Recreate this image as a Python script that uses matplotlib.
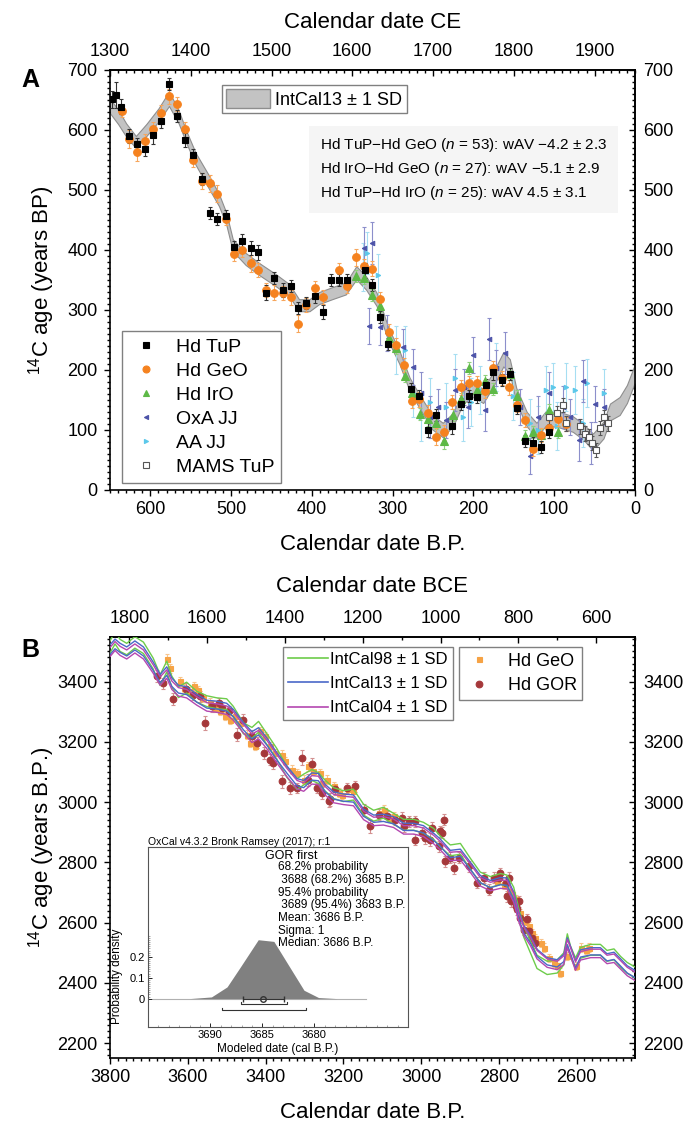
import numpy as np
import matplotlib.pyplot as plt
from matplotlib.lines import Line2D
from matplotlib.patches import Patch
from matplotlib.ticker import MultipleLocator, FixedLocator

plt.rcParams['font.family'] = 'Liberation Sans'
plt.rcParams['mathtext.fontset'] = 'custom'
plt.rcParams['mathtext.rm'] = 'Liberation Sans'
plt.rcParams['mathtext.it'] = 'Liberation Sans:italic'

# ---------------- panel A data (cal BP, 14C age) ----------------
ic13_bp = [650, 640, 630, 618, 605, 590, 577, 565, 556, 544, 527, 515, 506, 498, 482, 465, 445, 428,
           416, 403, 391, 375, 358, 345, 333, 320, 305, 292, 279, 267, 251, 238, 225, 213, 201, 188,
           176, 163, 155, 147, 134, 122, 110, 93, 77, 64, 52, 39, 31, 19, 10, 0]
ic13_age = [640, 622, 600, 580, 600, 625, 652, 622, 590, 552, 512, 483, 452, 408, 385, 368, 350, 333,
            308, 308, 320, 328, 336, 362, 345, 318, 258, 222, 176, 148, 113, 100, 118, 155, 166, 157,
            183, 218, 206, 158, 118, 100, 120, 117, 110, 97, 80, 100, 130, 140, 160, 195]
ic13_sd = [12, 12, 11, 10, 10, 11, 12, 11, 10, 10, 11, 10, 10, 10, 10, 10, 10, 10,
           10, 10, 10, 10, 10, 11, 11, 11, 11, 11, 11, 11, 12, 12, 11, 11, 11, 12,
           12, 12, 12, 12, 12, 12, 12, 13, 13, 13, 14, 14, 14, 15, 15, 15]

tup_bp = [647, 643, 637, 627, 617, 607, 597, 587, 577, 567, 557, 547, 536, 526, 517, 507, 497, 487,
          476, 467, 457, 447, 436, 426, 417, 407, 396, 386, 376, 366, 356, 334, 326, 316,
          306, 277, 267, 256, 246, 227, 216, 206, 196, 185, 176, 165, 155, 146, 136, 126, 116, 106]
tup_age = [651, 658, 639, 590, 577, 568, 592, 615, 677, 623, 583, 559, 518, 462, 451, 456, 405, 415,
           403, 396, 329, 353, 333, 340, 303, 312, 323, 297, 350, 350, 350, 366, 342, 288,
           244, 168, 156, 100, 125, 106, 144, 156, 155, 175, 196, 183, 194, 136, 81, 79, 71, 96]
tup_err = [14, 22, 12, 12, 10, 12, 15, 12, 10, 10, 12, 10, 10, 10, 10, 10, 10, 12,
           12, 12, 12, 10, 12, 10, 10, 10, 12, 12, 10, 10, 10, 12, 10, 10,
           10, 10, 10, 12, 10, 12, 10, 10, 10, 10, 12, 10, 10, 10, 10, 10, 10, 10]

geo_bp = [635, 627, 617, 607, 597, 587, 577, 567, 557, 547, 536, 526, 517, 507, 497, 487, 476, 467,
          457, 447, 436, 426, 417, 407, 396, 386, 366, 356, 346, 336, 326, 316,
          305, 296, 286, 276, 267, 256, 246, 236, 226, 216, 206, 196, 186, 176, 165, 156, 146, 136,
          126, 116, 106, 95, 85]
geo_age = [632, 585, 563, 581, 601, 629, 656, 643, 601, 550, 515, 511, 494, 451, 393, 400, 378, 367,
           333, 329, 328, 321, 277, 308, 336, 322, 366, 340, 388, 373, 369, 318,
           264, 242, 208, 149, 151, 129, 89, 96, 147, 171, 178, 178, 165, 203, 187, 171, 142, 117,
           68, 92, 103, 119, 110]
geo_err = [10, 15, 15, 12, 12, 12, 12, 12, 12, 12, 14, 14, 14, 10, 12, 12, 14, 12,
           12, 12, 12, 12, 14, 12, 12, 12, 12, 12, 14, 12, 12, 12,
           12, 12, 12, 12, 12, 12, 14, 12, 12, 12, 12, 12, 12, 12, 12, 12, 12, 12,
           12, 12, 12, 12, 12]

iro_bp = [346, 336, 326, 316, 305, 296, 285, 276, 266, 256, 246, 236, 225, 216, 206, 196, 186, 176,
          155, 146, 136, 126, 116, 106, 95]
iro_age = [356, 353, 325, 307, 253, 236, 190, 162, 127, 119, 111, 81, 125, 151, 204, 167, 181, 169,
           194, 156, 90, 96, 92, 134, 97]
iro_err = [10, 10, 10, 10, 10, 10, 10, 10, 10, 12, 10, 12, 10, 10, 10, 10, 10, 10,
           10, 10, 10, 10, 10, 10, 10]

oxa_bp = [336, 326, 329, 316, 307, 287, 275, 265, 254, 244, 234, 223, 212, 207, 200, 186, 181, 172,
          161, 142, 130, 120, 106, 89, 81, 69, 65, 55, 50, 39]
oxa_age = [404, 411, 273, 272, 261, 239, 205, 161, 122, 139, 117, 167, 172, 139, 225, 133, 251, 203,
           228, 139, 56, 122, 161, 139, 122, 83, 181, 78, 144, 139]
oxa_err = [35, 35, 30, 30, 30, 30, 30, 35, 35, 30, 30, 35, 30, 35, 30, 35, 35, 30,
           35, 30, 30, 35, 35, 35, 30, 35, 35, 35, 30, 30]

aa_bp = [337, 332, 318, 296, 285, 275, 265, 254, 234, 223, 213, 203, 192, 172, 151, 130, 120, 110,
         101, 97, 85, 74, 64, 60, 39]
aa_age = [372, 395, 358, 233, 233, 161, 122, 147, 139, 186, 122, 147, 167, 205, 156, 111, 100, 167,
          172, 106, 172, 167, 111, 178, 161]
aa_err = [40, 35, 35, 40, 40, 40, 40, 40, 40, 40, 40, 40, 40, 40, 40, 40, 40, 40,
          40, 40, 40, 40, 40, 40, 40]

mams_bp = [106, 97, 89, 85, 68, 62, 57, 53, 48, 43, 39, 33]
mams_age = [122, 128, 142, 111, 106, 94, 89, 78, 67, 103, 122, 111]
mams_err = [12, 12, 12, 12, 12, 12, 12, 12, 12, 12, 12, 12]

ce_ticks = [1300, 1400, 1500, 1600, 1700, 1800, 1900]

# ---------------- panel B data ----------------
curve_bp = [3800, 3787, 3774, 3757, 3736, 3714, 3689, 3671, 3654, 3641,
            3624, 3603, 3577, 3551, 3525, 3500, 3483, 3457, 3435, 3418,
            3397, 3371, 3345, 3319, 3302, 3281, 3264, 3247, 3225, 3200,
            3174, 3148, 3122, 3097, 3071, 3045, 3019, 2994, 2968, 2951,
            2925, 2899, 2873, 2848, 2822, 2796, 2779, 2762, 2749, 2736,
            2719, 2702, 2676, 2650, 2633, 2624, 2616, 2603, 2590, 2564,
            2539, 2522, 2504, 2487, 2470, 2450]
ic98_age = [3515, 3545, 3520, 3508, 3530, 3512, 3460, 3405, 3450, 3400,
            3365, 3380, 3350, 3335, 3328, 3325, 3300, 3245, 3230, 3250,
            3210, 3160, 3100, 3060, 3075, 3090, 3080, 3055, 3030, 3020,
            3025, 2975, 2955, 2965, 2945, 2925, 2925, 2915, 2895, 2870,
            2840, 2845, 2795, 2750, 2735, 2745, 2740, 2700, 2630, 2570,
            2520, 2470, 2450, 2455, 2480, 2545, 2505, 2465, 2500, 2510,
            2510, 2490, 2495, 2470, 2450, 2435]
ic98_sd = [20, 20, 20, 19, 19, 19, 18, 18, 18, 18,
           18, 18, 18, 18, 18, 18, 18, 18, 18, 18,
           18, 18, 18, 18, 18, 18, 18, 18, 18, 18,
           18, 18, 18, 18, 18, 18, 18, 18, 18, 18,
           18, 18, 18, 18, 18, 18, 18, 18, 18, 18,
           20, 22, 22, 22, 20, 18, 18, 18, 18, 18,
           18, 18, 18, 18, 18, 18]
ic13_age_b = [3506, 3525, 3512, 3500, 3520, 3500, 3451, 3410, 3435, 3398,
              3375, 3370, 3345, 3325, 3322, 3315, 3296, 3252, 3222, 3235,
              3202, 3152, 3108, 3066, 3060, 3085, 3083, 3047, 3022, 3015,
              3012, 2965, 2945, 2948, 2940, 2918, 2918, 2910, 2885, 2866,
              2828, 2832, 2788, 2745, 2728, 2738, 2736, 2690, 2625, 2578,
              2545, 2500, 2472, 2465, 2483, 2538, 2510, 2462, 2498, 2505,
              2505, 2485, 2490, 2468, 2445, 2430]
ic13_sd_b = [16, 16, 15, 15, 15, 15, 14, 14, 14, 14,
             13, 13, 13, 13, 13, 13, 12, 12, 12, 12,
             12, 12, 12, 12, 12, 12, 12, 12, 12, 12,
             12, 12, 12, 12, 12, 12, 12, 12, 12, 12,
             12, 12, 12, 12, 12, 12, 12, 12, 12, 12,
             12, 12, 12, 12, 12, 12, 12, 12, 12, 12,
             12, 12, 12, 12, 12, 12]
ic04_age = [3498, 3518, 3502, 3490, 3510, 3490, 3442, 3402, 3425, 3388,
            3366, 3360, 3336, 3316, 3312, 3305, 3286, 3244, 3212, 3224,
            3192, 3144, 3098, 3058, 3050, 3074, 3072, 3038, 3012, 3006,
            3002, 2956, 2936, 2938, 2930, 2908, 2908, 2900, 2876, 2856,
            2820, 2822, 2780, 2736, 2720, 2728, 2726, 2682, 2618, 2572,
            2538, 2494, 2466, 2458, 2476, 2530, 2504, 2456, 2490, 2498,
            2498, 2478, 2482, 2460, 2438, 2422]
ic04_sd = [15, 15, 15, 15, 15, 15, 14, 14, 14, 14,
           14, 14, 14, 14, 14, 14, 14, 14, 14, 14,
           14, 14, 14, 14, 14, 14, 14, 14, 14, 14,
           14, 14, 14, 14, 14, 14, 14, 14, 14, 14,
           14, 14, 14, 14, 14, 14, 14, 14, 14, 14,
           14, 14, 14, 14, 14, 14, 14, 14, 14, 14,
           14, 14, 14, 14, 14, 14]

geob_bp = [3654, 3645, 3620, 3611, 3598, 3585, 3573, 3560, 3543, 3530, 3517, 3504, 3491, 3478, 3465,
           3448, 3440, 3427, 3414, 3401, 3388, 3375, 3358, 3350, 3332, 3320, 3302, 3290, 3277, 3259,
           3255, 3242, 3225, 3212, 3204, 3187, 3174, 3109, 3096, 3079, 3071,
           2805, 2788, 2775, 2766, 2757, 2745, 2732, 2723, 2714, 2706, 2693, 2685, 2672, 2659, 2650,
           2642, 2625, 2603, 2590, 2577, 2569]
geob_age = [3475, 3445, 3401, 3379, 3368, 3385, 3373, 3346, 3329, 3313, 3302, 3285, 3274, 3285, 3263,
            3224, 3197, 3186, 3235, 3219, 3186, 3163, 3158, 3136, 3108, 3097, 3075, 3119, 3103, 3097,
            3064, 3075, 3053, 3031, 3025, 3042, 3036, 2964, 2975, 2948, 2953,
            2738, 2727, 2705, 2694, 2677, 2633, 2605, 2589, 2566, 2550, 2533, 2517, 2483, 2467, 2461,
            2434, 2489, 2456, 2517, 2511, 2517]
geob_err = [18, 15, 15, 14, 14, 15, 14, 14, 15, 14, 14, 14, 15, 14, 14,
            15, 14, 14, 15, 14, 14, 15, 14, 14, 15, 14, 14, 15, 14, 14,
            15, 14, 14, 15, 14, 14, 14, 14, 15, 14, 14,
            14, 14, 14, 14, 14, 14, 14, 14, 14, 14, 14, 14, 14, 14, 14,
            14, 14, 14, 14, 14, 14]

gor_bp = [3680, 3665, 3637, 3604, 3587, 3568, 3555, 3538, 3521, 3513, 3495, 3474, 3457, 3435, 3422,
          3405, 3388, 3380, 3358, 3337, 3320, 3307, 3290, 3281, 3268, 3255, 3238, 3234, 3221, 3191,
          3169, 3148, 3131, 3109, 3088, 3066, 3049, 3032, 3015, 2989, 2972, 2951, 2942,
          3045, 3015, 2998, 2976, 2946, 2955, 2938, 2925, 2916, 2903, 2878, 2856, 2839, 2826, 2813,
          2800, 2796, 2783, 2775, 2779, 2770, 2757, 2753, 2749, 2745, 2736, 2727, 2723, 2714, 2706]
gor_age = [3418, 3395, 3343, 3376, 3357, 3351, 3263, 3318, 3329, 3313, 3302, 3224, 3274, 3219, 3197,
           3163, 3141, 3130, 3069, 3047, 3047, 3147, 3075, 3125, 3047, 3031, 3003, 3009, 3042, 3047,
           3053, 2975, 2920, 2959, 2953, 2942, 2948, 2937, 2937, 2881, 2915, 2904, 2942,
           2920, 2876, 2898, 2876, 2898, 2854, 2804, 2815, 2782, 2815, 2787, 2732, 2749, 2710, 2749,
           2749, 2765, 2732, 2749, 2688, 2671, 2655, 2644, 2671, 2616, 2577, 2611, 2572, 2550, 2533]
gor_err = [20, 18, 20, 18, 18, 18, 22, 18, 18, 18, 18, 22, 18, 20, 18,
           20, 18, 20, 22, 20, 18, 25, 20, 22, 18, 20, 18, 22, 18, 18,
           18, 20, 22, 18, 18, 18, 18, 18, 18, 20, 18, 18, 18,
           20, 18, 18, 20, 18, 18, 18, 18, 20, 18, 18, 18, 18, 18, 18,
           18, 18, 18, 18, 18, 18, 18, 18, 18, 18, 18, 18, 18, 18, 18]

bce_ticks = [1800, 1600, 1400, 1200, 1000, 800, 600]
bce_minor = [1800, 1700, 1600, 1500, 1400, 1300, 1200, 1100, 1000, 900, 800, 700, 600, 500]

# OxCal inset: modelled date of GOR first
dens_bp = [3695.5, 3692.0, 3689.9, 3688.4, 3687.1, 3685.4, 3683.9, 3682.6, 3681.0, 3679.6, 3677.8, 3675.0]
dens_p = [0.0, 0.0, 0.008, 0.056, 0.153, 0.282, 0.274, 0.169, 0.040, 0.005, 0.0, 0.0]
mean_bp = 3684.9
sigma_bp = 1.95
range68 = [3687.1, 3682.6]
range95 = [3688.9, 3680.85]
oxcal_lines = ['68.2% probability', ' 3688 (68.2%) 3685 B.P.', '95.4% probability',
               ' 3689 (95.4%) 3683 B.P.', 'Mean: 3686 B.P.', 'Sigma: 1', 'Median: 3686 B.P.']

# ---------------- figure ----------------
W, H = 687, 1123
fig = plt.figure(figsize=(W / 100, H / 100), dpi=100)


def frame(left, top, right, bottom):
    # pixel box -> figure fraction
    return [left / W, 1 - bottom / H, (right - left) / W, (bottom - top) / H]


def dress(ax, xmaj, xmin, ymaj, ymin):
    ax.xaxis.set_major_locator(MultipleLocator(xmaj))
    ax.xaxis.set_minor_locator(MultipleLocator(xmin))
    ax.yaxis.set_major_locator(MultipleLocator(ymaj))
    ax.yaxis.set_minor_locator(MultipleLocator(ymin))
    ax.tick_params(which='both', direction='out', width=1, labelsize=13)
    ax.tick_params(axis='x', pad=4)
    ax.tick_params(axis='y', pad=5)
    ax.tick_params(which='major', length=4)
    ax.tick_params(which='minor', length=2)
    for sp in ax.spines.values():
        sp.set_linewidth(1.2)


def twins(ax, f, xmaj_list, xmin_list, ymaj, ymin):
    top = ax.secondary_xaxis('top', functions=(f, f))
    top.xaxis.set_major_locator(FixedLocator(xmaj_list))
    top.xaxis.set_minor_locator(FixedLocator(xmin_list))
    top.tick_params(which='both', direction='in', width=1, labelsize=13, pad=7)
    top.tick_params(which='major', length=4)
    top.tick_params(which='minor', length=2)
    right = ax.secondary_yaxis('right')
    right.yaxis.set_major_locator(MultipleLocator(ymaj))
    right.yaxis.set_minor_locator(MultipleLocator(ymin))
    right.tick_params(which='both', direction='in', width=1, labelsize=13, pad=6)
    right.tick_params(which='major', length=4)
    right.tick_params(which='minor', length=2)
    top.spines['top'].set_linewidth(1.2)
    right.spines['right'].set_linewidth(1.2)
    return top


def errpts(ax, bp, age, err, fmt, color, ecolor, ms, mfc=None, z=3):
    ax.errorbar(bp, age, yerr=err, fmt=fmt, color=color, ecolor=ecolor, ms=ms,
                mfc=mfc if mfc else color, mec=color, mew=0.8, elinewidth=0.8,
                capsize=1.6, capthick=0.8, zorder=z)


# ===== Panel A =====
axA = fig.add_axes(frame(110, 70, 635, 490))
axA.set_xlim(650, 0)
axA.set_ylim(0, 700)
dress(axA, 100, 10, 100, 10)
twins(axA, lambda x: 1950 - x, ce_ticks, list(range(1300, 1951, 10)), 100, 10)

axA.fill_between(ic13_bp, np.subtract(ic13_age, ic13_sd), np.add(ic13_age, ic13_sd),
                 facecolor='#c3c3c3', edgecolor='#8e8e8e', lw=0.8, zorder=1)
errpts(axA, aa_bp, aa_age, aa_err, '>', '#5bc8ea', '#a6def2', 3.2, z=2)
errpts(axA, oxa_bp, oxa_age, oxa_err, '<', '#4c52a8', '#8c8fcb', 3.2, z=2)
errpts(axA, iro_bp, iro_age, iro_err, '^', '#5db946', '#8fd07c', 5.5)
errpts(axA, geo_bp, geo_age, geo_err, 'o', '#f5821f', '#f7a65c', 5.5)
errpts(axA, tup_bp, tup_age, tup_err, 's', 'black', '#333333', 4.8)
errpts(axA, mams_bp, mams_age, mams_err, 's', '#555555', '#555555', 5, mfc='white')

axA.set_ylabel('$^{14}$C age (years BP)', fontsize=16, va='center')
axA.yaxis.set_label_coords(-0.13, 0.5)
axA.set_xlabel('Calendar date B.P.', fontsize=16, va='center')
axA.xaxis.set_label_coords(0.5, -0.13)
fig.text(372.5 / W, 1 - 22 / H, 'Calendar date CE', fontsize=16, ha='center', va='center')
fig.text(30 / W, 1 - 80 / H, 'A', fontsize=18, fontweight='bold', ha='center', va='center')

mk = dict(ls='none', mew=0.8)
handlesA = [Line2D([], [], marker='s', color='black', ms=4.5, **mk),
            Line2D([], [], marker='o', color='#f5821f', ms=5, **mk),
            Line2D([], [], marker='^', color='#5db946', ms=5, **mk),
            Line2D([], [], marker='<', color='#4c52a8', ms=3, **mk),
            Line2D([], [], marker='>', color='#5bc8ea', ms=3, **mk),
            Line2D([], [], marker='s', color='#555555', mfc='white', ms=4.5, **mk)]
labelsA = ['Hd TuP', 'Hd GeO', 'Hd IrO', 'OxA JJ', 'AA JJ', 'MAMS TuP']
legA = axA.legend(handlesA, labelsA, loc='lower left', bbox_to_anchor=(0.023, 0.017),
                  fontsize=14, frameon=True, fancybox=False, edgecolor='#808080', framealpha=1,
                  borderpad=0.35, labelspacing=0.33, handlelength=1.8, handletextpad=0.6,
                  borderaxespad=0)
legA.get_frame().set_linewidth(1.0)
axA.add_artist(legA)
legI = axA.legend([Patch(facecolor='#c3c3c3', edgecolor='#8e8e8e', lw=1)], ['IntCal13 ± 1 SD'],
                  loc='upper left', bbox_to_anchor=(0.213, 0.965), fontsize=13, frameon=True,
                  fancybox=False, edgecolor='#808080', framealpha=1, borderpad=0.25,
                  handlelength=2.4, handleheight=1.2, handletextpad=0.3, borderaxespad=0)
legI.get_frame().set_linewidth(1.0)

axA.text(0.40, 0.842,
         'Hd TuP−Hd GeO ($\\it{n}$ = 53): wAV −4.2 ± 2.3\n'
         'Hd IrO−Hd GeO ($\\it{n}$ = 27): wAV −5.1 ± 2.9\n'
         'Hd TuP−Hd IrO ($\\it{n}$ = 25): wAV 4.5 ± 3.1',
         transform=axA.transAxes, fontsize=11, ha='left', va='top', linespacing=1.45,
         bbox=dict(facecolor='#f5f5f5', edgecolor='none', boxstyle='square,pad=0.7'), zorder=4)

# ===== Panel B =====
axB = fig.add_axes(frame(110, 637, 635, 1058))
axB.set_xlim(3800, 2450)
axB.set_ylim(2151, 3548)
dress(axB, 200, 20, 200, 20)
twins(axB, lambda x: x - 1950, bce_ticks, bce_minor, 200, 20)

errpts(axB, geob_bp, geob_age, geob_err, 's', '#f6a345', '#f8c58e', 3.6)
errpts(axB, gor_bp, gor_age, gor_err, 'o', '#a5383a', '#d39191', 4.8)

curves = [(ic98_age, ic98_sd, '#6dcc4a'), (ic13_age_b, ic13_sd_b, '#4a68c8'),
          (ic04_age, ic04_sd, '#b447b0')]
for mid, sd, col in curves:
    axB.plot(curve_bp, np.add(mid, sd), color=col, lw=1.0, zorder=4)
    axB.plot(curve_bp, np.subtract(mid, sd), color=col, lw=1.0, zorder=4)

axB.set_ylabel('$^{14}$C age (years B.P.)', fontsize=16, va='center')
axB.yaxis.set_label_coords(-0.13, 0.5)
axB.set_xlabel('Calendar date B.P.', fontsize=16, va='center')
axB.xaxis.set_label_coords(0.5, -0.13)
fig.text(372.5 / W, 1 - 587 / H, 'Calendar date BCE', fontsize=16, ha='center', va='center')
fig.text(30 / W, 1 - 650 / H, 'B', fontsize=18, fontweight='bold', ha='center', va='center')

handlesB = [Line2D([], [], color=c, lw=1.2) for _, _, c in curves]
labelsB = ['IntCal98 ± 1 SD', 'IntCal13 ± 1 SD', 'IntCal04 ± 1 SD']
legB = axB.legend(handlesB, labelsB, loc='upper left', bbox_to_anchor=(0.3295, 0.976),
                  fontsize=12, frameon=True, fancybox=False, edgecolor='#808080', framealpha=1,
                  borderpad=0.3, labelspacing=0.55, handlelength=2.4, handletextpad=0.15,
                  borderaxespad=0)
legB.get_frame().set_linewidth(1.0)
axB.add_artist(legB)
legM = axB.legend([Line2D([], [], marker='s', color='#f6a345', ms=3.6, **mk),
                   Line2D([], [], marker='o', color='#a5383a', ms=4.8, **mk)],
                  ['Hd GeO', 'Hd GOR'], loc='upper left', bbox_to_anchor=(0.665, 0.976),
                  fontsize=13, frameon=True, fancybox=False, edgecolor='#808080', framealpha=1,
                  borderpad=0.3, labelspacing=0.42, handlelength=1.6, handletextpad=0.8,
                  borderaxespad=0)
legM.get_frame().set_linewidth(1.0)

# ===== OxCal inset =====
ins = fig.add_axes(frame(148, 847, 408, 1027))
ins.set_facecolor('white')
ins.set_xlim(3696, 3671)
ins.set_ylim(-0.136, 0.726)
ins.fill_between(dens_bp, 0, dens_p, color='#808080', lw=0, zorder=2)
ins.plot([3695.5, 3675.0], [0, 0], color='#b0b0b0', lw=0.8, zorder=1)
ins.errorbar([mean_bp], [0], xerr=[sigma_bp], fmt='o', ms=4, mfc='none', mec='#333333',
             ecolor='#333333', elinewidth=0.8, capsize=2, zorder=3)
for rng, yb in ((range68, -0.024), (range95, -0.053)):
    ins.plot([rng[0], rng[0], rng[1], rng[1]], [yb + 0.01, yb, yb, yb + 0.01],
             color='#333333', lw=0.8, zorder=3)
ins.xaxis.set_major_locator(FixedLocator([3690, 3685, 3680]))
ins.xaxis.set_minor_locator(MultipleLocator(1))
ins.yaxis.set_major_locator(FixedLocator([0, 0.1, 0.2]))
ins.set_yticklabels(['0', '0.1', '0.2'])
ins.yaxis.set_minor_locator(FixedLocator([i / 100 for i in range(0, 31)]))
ins.tick_params(which='both', direction='in', labelsize=8, width=0.6, pad=2)
ins.tick_params(which='major', length=3)
ins.tick_params(which='minor', length=1.5, color='#999999')
for sp in ins.spines.values():
    sp.set_linewidth(0.8)
    sp.set_color('#555555')
ins.set_xlabel('Modeled date (cal B.P.)', fontsize=8.5, labelpad=2)
ins.set_ylabel('Probability density', fontsize=8.5, va='center')
ins.yaxis.set_label_coords(-0.12, 0.28)
ins.set_title('OxCal v4.3.2 Bronk Ramsey (2017); r:1', loc='left', fontsize=7.5, pad=1.5)
ins.text(0.55, 0.948, 'GOR first', transform=ins.transAxes,
         fontsize=9, ha='center', va='center')
for i, line in enumerate(oxcal_lines):
    ins.text(0.50, 0.887 - i * 0.0705, line, transform=ins.transAxes,
             fontsize=8.5, ha='left', va='center')

fig.savefig('out.png', dpi=100)
